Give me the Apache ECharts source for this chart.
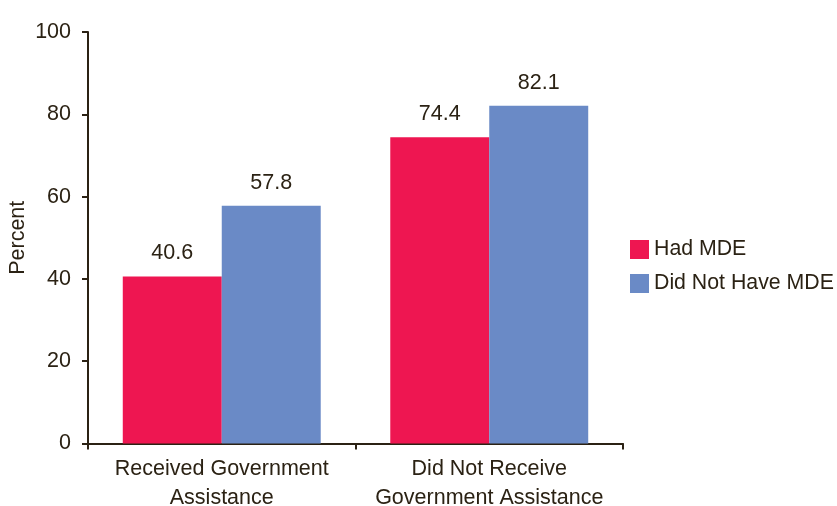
<!DOCTYPE html>
<html><head><meta charset="utf-8">
<script src="https://cdn.jsdelivr.net/npm/echarts@6/dist/echarts.min.js"></script>
<style>html,body{margin:0;padding:0;background:#fff}#c{width:837px;height:506px}</style>
</head><body><div id="c"></div>
<script>
const categories = ['Received Government\nAssistance', 'Did Not Receive\nGovernment Assistance'];
const hadMDE = [40.6, 74.4];
const noMDE = [57.8, 82.1];
const yTicks = [0, 20, 40, 60, 80, 100];
const seriesNames = ['Had MDE', 'Did Not Have MDE'];

const txt = '#2b2214';
const font = 'Liberation Sans, Arial, Helvetica, sans-serif';
const fs = 21.5;
const chart = echarts.init(document.getElementById('c'));
chart.setOption({
  animation: false,
  textStyle: { fontFamily: font, color: txt },
  grid: { left: 88, right: 214, top: 32, bottom: 62.5, containLabel: false, outerBoundsMode: 'none' },
  legend: {
    orient: 'vertical', left: 625, top: 234, itemWidth: 19, itemHeight: 19, itemGap: 13,
    icon: 'rect',
    textStyle: { fontSize: 21.3, color: txt, fontFamily: font },
    data: seriesNames
  },
  xAxis: {
    type: 'category', data: categories,
    axisLine: { lineStyle: { color: txt, width: 2 } },
    axisTick: { show: true, interval: 0, length: 6, lineStyle: { color: txt, width: 2 } },
    axisLabel: { interval: 0, hideOverlap: false, fontSize: fs, color: txt, lineHeight: 29, margin: 11, fontFamily: font }
  },
  yAxis: {
    type: 'value', min: 0, max: 100, interval: 20,
    name: 'Percent', nameLocation: 'middle', nameGap: 59, nameRotate: 90, nameMoveOverlap: false,
    nameTextStyle: { fontSize: fs, color: txt, fontFamily: font },
    axisLine: { show: true, lineStyle: { color: txt, width: 2 } },
    axisTick: { show: true, length: 6, lineStyle: { color: txt, width: 2 } },
    axisLabel: { fontSize: fs, color: txt, margin: 17, fontFamily: font },
    splitLine: { show: false }
  },
  series: [
    { name: seriesNames[0], type: 'bar', data: hadMDE, barGap: '0%', barCategoryGap: '26%',
      itemStyle: { color: '#ee1651' },
      label: { show: true, position: 'top', distance: 12, fontSize: fs, color: txt, fontFamily: font, formatter: p => p.value.toFixed(1) } },
    { name: seriesNames[1], type: 'bar', data: noMDE, barGap: '0%', barCategoryGap: '26%',
      itemStyle: { color: '#6a8ac6' },
      label: { show: true, position: 'top', distance: 12, fontSize: fs, color: txt, fontFamily: font, formatter: p => p.value.toFixed(1) } }
  ]
});
</script></body></html>
